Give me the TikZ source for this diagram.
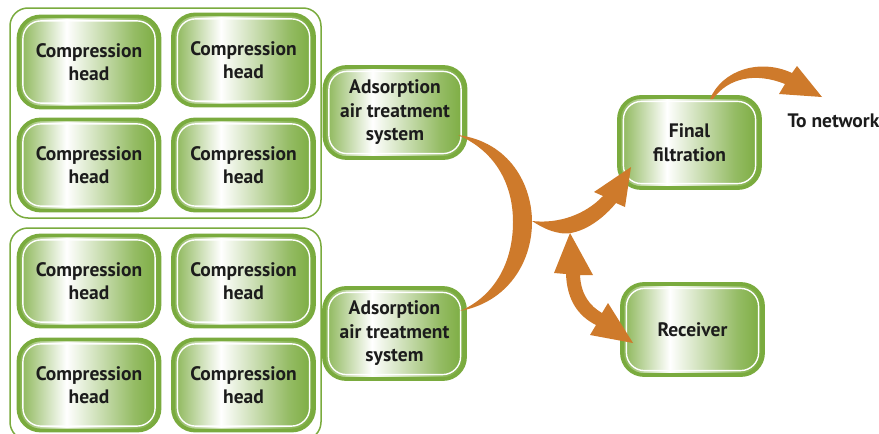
\documentclass[tikz,border=0pt]{standalone}
\usepackage{fontspec}
\setmainfont{PT Sans}
\definecolor{boxgreen}{RGB}{122,171,62}
\definecolor{flow}{RGB}{206,122,43}
\definecolor{ink}{RGB}{28,28,28}
\pgfdeclarehorizontalshading{boxfill}{100bp}{color(0bp)=(boxgreen!90!white); color(25bp)=(boxgreen!90!white); color(42bp)=(white); color(66bp)=(boxgreen!80!white); color(75bp)=(boxgreen); color(100bp)=(boxgreen)}

\begin{document}
\begin{tikzpicture}[x=1pt,y=-1pt,
   unit/.style={draw=boxgreen, line width=3.8pt, rounded corners=22pt, shade, shading=boxfill,
     minimum width=141pt, minimum height=91pt, align=center, text=ink,
     font=\bfseries\fontsize{19.5}{23.5}\selectfont,
     path picture={\draw[white,line width=1.4pt,rounded corners=18pt]
       ([shift={(4.4pt,-4.4pt)}]path picture bounding box.north west) rectangle
       ([shift={(-4.4pt,4.4pt)}]path picture bounding box.south east);}},
   group/.style={draw=boxgreen, line width=1.5pt, rounded corners=18pt},
   flowarrow/.style={fill=flow}]
   \useasboundingbox (0,0) rectangle (879,434);
   % compressor groups
   \draw[group] (10,8) rectangle (321,218);
   \draw[group] (10,228) rectangle (321,440);
   \foreach \n/\x/\y in {1/89/60,2/243.5/58,3/89/163,4/243.5/163,
                         5/89/279,6/243.5/279,7/89/383,8/243.5/383} {
    \node[unit] (head\n) at (\x,\y+2) {Compression\\head};
   }
   % treatment, filtration, receiver
   \node[unit] (ads1) at (395,112.5) {Adsorption\\air treatment\\system};
   \node[unit] (ads2) at (394.5,333.5) {Adsorption\\air treatment\\system};
   \node[unit] (filter) at (689.5,142.5) {Final\\filtration};
   \node[unit] (recv) at (692.5,329.5) {Receiver};
   \node[anchor=base west, text=ink, font=\bfseries\fontsize{19.5}{23}\selectfont]
     (net) at (784,127) {To network};
   % flows
   \coordinate (merge) at (532,221);
   \fill[flowarrow] (458,135) .. controls (510,142) and (532,185) .. (532,222)
     .. controls (532,262) and (508,302) .. (460,311)
     .. controls (495,296) and (513,262) .. (513,222)
     .. controls (513,186) and (497,152) .. (458,135) -- cycle;
   \fill[flowarrow] (merge) .. controls (558,224) and (585,215) .. (603,196)
     -- (594,192) -- (631,167) -- (625,207) -- (616,203)
     .. controls (598,225) and (575,236) .. (560,233)
     .. controls (548,231) and (540,226) .. (merge) -- cycle;
   \fill[flowarrow] (570,233) -- (593,275) -- (580,275)
     .. controls (581,295) and (590,306) .. (602,313)
     -- (608,303) -- (633,343) -- (590,335) -- (596,325)
     .. controls (578,316) and (567,300) .. (566,274) -- (554,273) -- cycle;
   \fill[flowarrow] (710,99) .. controls (722,70) and (760,58) .. (792,73)
     -- (797,66) -- (822,97) -- (779,94) -- (785,84)
     .. controls (755,72) and (728,78) .. (713,99) -- cycle;
\end{tikzpicture}
\end{document}
